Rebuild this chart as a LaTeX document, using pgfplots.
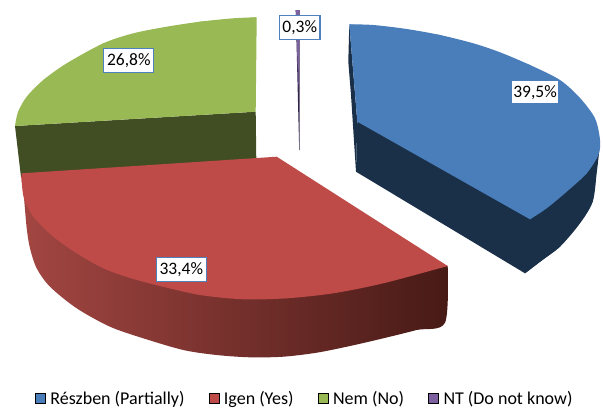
\documentclass[border=0pt]{standalone}
\usepackage{pgfplots}
\usepackage{fontspec}
\setmainfont{Carlito}
\pgfplotsset{compat=1.18}

\definecolor{blueTop}{HTML}{4A7EBB}
\definecolor{blueSide}{HTML}{1A3049}
\definecolor{redTop}{HTML}{BE4B48}
\definecolor{redLight}{HTML}{A34642}
\definecolor{redDark}{HTML}{471A16}
\definecolor{greenTop}{HTML}{98B954}
\definecolor{greenSide}{HTML}{414D23}
\definecolor{purpleTop}{HTML}{7D60A0}
\definecolor{purpleSide}{HTML}{31254A}
\definecolor{boxEdge}{HTML}{4F81BD}

\tikzset{label box/.style={fill=white, inner sep=0pt, minimum height=24pt,
  font=\fontsize{17.5}{20}\selectfont, text=black},
  piece/.style={fill=#1, draw=none}}

\begin{document}
\begin{tikzpicture}
\begin{axis}[
  scale only axis,
  width=603pt, height=408pt,
  xmin=0, xmax=603, ymin=0, ymax=408,
  y dir=reverse,
  hide axis,
  clip=false,
  legend columns=4,
  legend style={
    at={(axis cs:35,398.2)}, anchor=west,
    draw=none, fill=none, inner sep=0pt, outer sep=0pt,
    font=\fontsize{18}{20}\selectfont,
    nodes={inner sep=0pt},
  },
  legend image code/.code={
    \fill[#1] (0pt,-5pt) rectangle (10pt,5pt);
  },
  every axis plot/.append style={forget plot},
]
% Legend keys
\addlegendimage{fill=blueTop}
\addlegendentry{\mbox{\hspace{5pt}Részben (Partially)\hspace{24pt}}}
\addlegendimage{fill=redTop}
\addlegendentry{\mbox{\hspace{5pt}Igen (Yes)\hspace{24pt}}}
\addlegendimage{fill=greenTop}
\addlegendentry{\mbox{\hspace{5pt}Nem (No)\hspace{24pt}}}
\addlegendimage{fill=purpleTop}
\addlegendentry{\mbox{\hspace{5pt}NT (Do not know)}}

% Részben slice: inner wall, outer wall, top face
\addplot[piece=blueSide] coordinates {
  (349.3,24.3) (348.3,61.7) (351,95) (356,171.7) (357.3,121.7)} --cycle;
\addplot[piece=blueSide, smooth] coordinates {
  (600,140) (599.3,150) (596.7,173) (592.7,201.7) (580,223.3) (560,246.7) (540,261.7) (525,273.3)};
\addplot[piece=blueSide] coordinates {
  (357.3,121.7) (600,140) (592.7,201.7) (560,246.7) (525,273.3) (356,171.7)} --cycle;
\addplot[piece=blueTop, smooth] coordinates {
  (349.3,24.3) (373.3,25) (406.7,29) (440,35) (473.3,43.3) (500,52.3) (530,65) (560,80)
  (580,98) (595,118.3) (600,140) (598.3,155) (586.7,173.3) (566.7,191.7) (546.7,208.3) (530,219.3)};
\addplot[piece=blueTop] coordinates {
  (349.3,24.3) (440,35) (530,65) (595,118.3) (586.7,173.3) (530,219.3) (357.3,121.7)} --cycle;

% Nem slice: cut wall, top face
\addplot[piece=greenSide] coordinates {
  (15,126) (255.7,111.7) (256.3,160) (21,177)} --cycle;
\addplot[piece=greenTop, smooth] coordinates {
  (256.7,17.3) (233.3,18.3) (200,21.7) (166.7,26.7) (133.3,33.3) (103.3,43.3) (66.7,63.3)
  (43.3,80) (26.7,96.7) (18,112) (15,126)};
\addplot[piece=greenTop] coordinates {
  (256.7,17.3) (200,21.7) (103.3,43.3) (43.3,80) (15,126) (255.7,111.7)} --cycle;

% NT sliver
\addplot[piece=purpleSide] coordinates {
  (295.7,10) (299.7,10) (299.7,150) (299.2,150)} --cycle;
\addplot[piece=purpleTop] coordinates {
  (295.7,10) (299.7,10) (298.4,90)} --cycle;

% Igen slice: outer wall, top face
\addplot[left color=redLight, right color=redDark, draw=none, smooth] coordinates {
  (21.5,176) (24,198) (26.7,228.3) (30,248.3) (36.7,268.3) (50,286.7) (76.7,308.3) (110,326.7)
  (143.3,338.3) (183.3,350) (216.7,355) (250,357.3) (283.3,356.7) (316.7,352.7) (350,346)
  (383.3,338.3) (416.7,330) (445,322.7) (447.7,266)};
\addplot[piece=redTop, smooth] coordinates {
  (447.7,266) (383.3,283.3) (333.3,293.3) (286.7,298.3) (243.3,299.3) (200,295) (160,286)
  (130,278) (103.3,268.3) (76.7,253.3) (53.3,236.7) (33.3,216.7) (24,198.3) (21.7,181.7) (21.5,176)};
\addplot[piece=redTop] coordinates {
  (276.7,156.7) (447.7,266) (286.7,298.3) (160,286) (53.3,236.7) (21.7,181.7) (21.5,173.3) (150,165)} --cycle;

% Value labels
\node[label box, draw=boxEdge, line width=1.3pt, minimum width=40.5pt] at (axis cs:299.8,27.7) {0,3\%};
\node[label box, draw=boxEdge, line width=1.3pt, minimum width=50pt] at (axis cs:128.8,60.2) {26,8\%};
\node[label box, draw=boxEdge, line width=1.3pt, minimum width=50pt] at (axis cs:181.3,269.2) {33,4\%};
\node[label box, minimum width=46.6pt, minimum height=22.3pt] at (axis cs:535,92.2) {39,5\%};
\end{axis}
% The picture's extent is that of the plotting area
\pgfresetboundingbox
\path (0pt,0pt) rectangle (603pt,408pt);
\end{tikzpicture}
\end{document}
